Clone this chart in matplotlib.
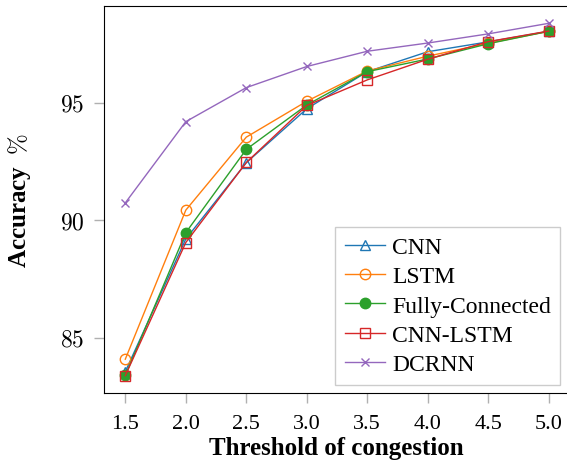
import matplotlib
matplotlib.use("Agg")
import matplotlib.pyplot as plt

thresholds = [1.5, 2.0, 2.5, 3.0, 3.5, 4.0, 4.5, 5.0]
cnn = [83.55, 89.2, 92.45, 94.75, 96.33, 97.18, 97.6, 98.05]
lstm = [84.08, 90.43, 93.54, 95.07, 96.36, 96.99, 97.54, 98.05]
fully_connected = [83.39, 89.47, 93.02, 94.91, 96.33, 96.87, 97.52, 98.05]
cnn_lstm = [83.38, 89.05, 92.46, 94.89, 95.98, 96.86, 97.61, 98.06]
dcrnn = [90.74, 94.2, 95.65, 96.55, 97.2, 97.55, 97.94, 98.39]

yticks = [85, 90, 95]
xticks = [1.5, 2.0, 2.5, 3.0, 3.5, 4.0, 4.5, 5.0]

plt.rcParams['font.family'] = ['Liberation Serif', 'DejaVu Serif']
plt.rcParams['mathtext.fontset'] = 'cm'

fig = plt.figure(figsize=(5.67, 4.64), dpi=100)
# right spine falls just outside the canvas, like the cropped original
ax = fig.add_axes([104/567, 1 - 394/464, (568.5 - 104)/567, (394 - 6.7)/464])

ax.plot(thresholds, cnn, color='C0', marker='^', fillstyle='none', ms=6.5, lw=1, label='CNN')
ax.plot(thresholds, lstm, color='C1', marker='o', fillstyle='none', ms=7.5, lw=1, label='LSTM')
ax.plot(thresholds, fully_connected, color='C2', marker='o', ms=7.5, lw=1, label='Fully-Connected')
ax.plot(thresholds, cnn_lstm, color='C3', marker='s', fillstyle='none', ms=7, lw=1, label='CNN-LSTM')
ax.plot(thresholds, dcrnn, color='C4', marker='x', ms=6, lw=1, label='DCRNN')

ax.set_xlim(1.324, 5.163)
ax.set_ylim(82.64, 99.14)
ax.set_xticks(xticks)
ax.set_xticklabels(['%.1f' % t for t in xticks], fontsize=16)
ax.set_yticks(yticks)
ax.set_yticklabels(['$%d$' % t for t in yticks], fontsize=17)
ax.tick_params(direction='out', length=7, width=1, color='#b0b0b0')
ax.tick_params(axis='x', pad=8)
ax.tick_params(axis='y', pad=7)
ax.spines['right'].set_visible(False)

ax.set_xlabel('Threshold of congestion', fontsize=18, fontweight='bold', labelpad=2)
ax.set_ylabel(r'Accuracy $\;\%$', fontsize=18, fontweight='bold')
ax.yaxis.set_label_coords(-0.1525, 0.5)

leg = ax.legend(loc='lower right', fontsize=17, fancybox=False, framealpha=1,
                borderaxespad=0.35, handlelength=1.7, handletextpad=0.3,
                labelspacing=0.33, borderpad=0.4)
leg.get_frame().set_edgecolor('#cccccc')

fig.savefig('out.png', dpi=100)
